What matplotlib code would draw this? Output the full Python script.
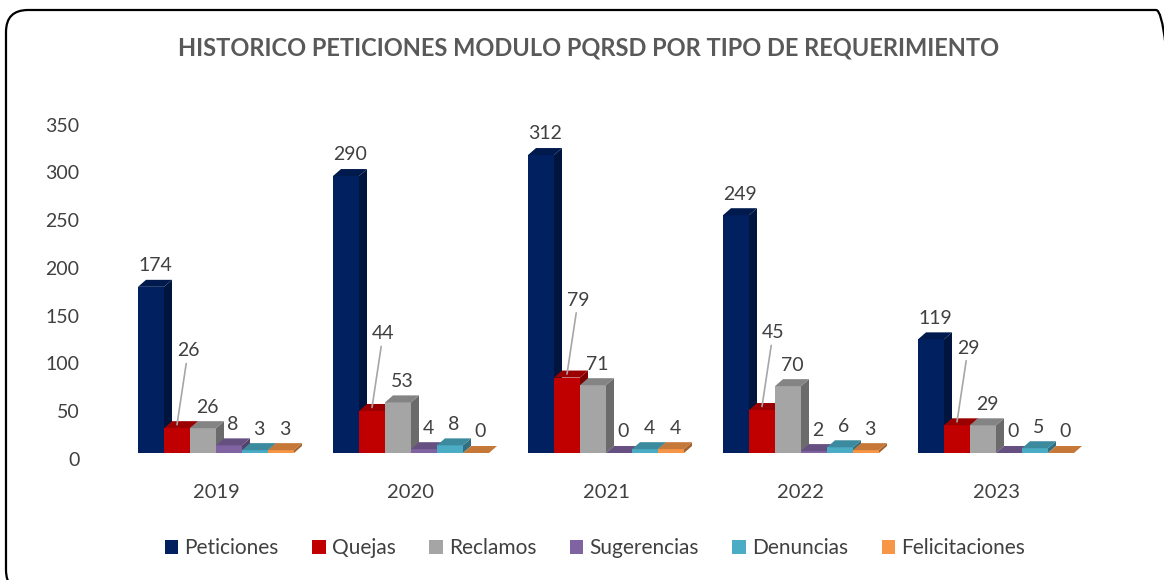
import numpy as np
import matplotlib.pyplot as plt
from matplotlib.patches import Polygon, Rectangle, FancyBboxPatch
from matplotlib.transforms import ScaledTranslation
import matplotlib.colors as mcolors

plt.rcParams['font.family'] = ['Lato', 'DejaVu Sans']

# ---------------- data ----------------
years = ['2019', '2020', '2021', '2022', '2023']
series = ['Peticiones', 'Quejas', 'Reclamos', 'Sugerencias', 'Denuncias', 'Felicitaciones']
peticiones = [174, 290, 312, 249, 119]
quejas = [26, 44, 79, 45, 29]
reclamos = [26, 53, 71, 70, 29]
sugerencias = [8, 4, 0, 2, 0]
denuncias = [3, 8, 4, 6, 5]
felicitaciones = [3, 0, 4, 3, 0]
values = [peticiones, quejas, reclamos, sugerencias, denuncias, felicitaciones]

colors = ['#002060', '#C00000', '#A5A5A5', '#8064A2', '#4BACC6', '#F79646']
txt = '#404040'

# ---------------- figure ----------------
fig = plt.figure(figsize=(11.64, 5.8), dpi=100)
W, H = 1164, 580

# rounded chart border (runs off the bottom/right edge like the original)
border = FancyBboxPatch((6 / 100, (H - 592) / 100), 1172 / 100, 582 / 100,
                        boxstyle='round,pad=0,rounding_size=0.22',
                        transform=fig.dpi_scale_trans, fill=False,
                        edgecolor='black', linewidth=1.6, clip_on=False)
fig.patches.append(border)

fig.text(589 / W, 1 - 48 / H,
         'HISTORICO PETICIONES MODULO PQRSD POR TIPO DE REQUERIMIENTO',
         ha='center', va='center', fontsize=17, fontweight='bold',
         color='#595959')

px_per_unit = 0.955
y0_px = 453
ymax = 350
ax_bottom = (H - y0_px) / H
ax_height = ymax * px_per_unit / H
cat_px = 195
ax_left = (216 - cat_px / 2) / W
ax = fig.add_axes([ax_left, ax_bottom, 5 * cat_px / W, ax_height])
ax.set_xlim(-0.5, 4.5)
ax.set_ylim(0, ymax)
for s in ax.spines.values():
    s.set_visible(False)
ax.set_facecolor('none')

# 3D look (pixels -> data units)
bar_w = 26 / cat_px
dx = 8 / cat_px
dy = 7 / px_per_unit
n = len(series)


def shade(c, f):
    r, g, b = mcolors.to_rgb(c)
    return (r * f, g * f, b * f)


x = np.arange(len(years))
z = 2
for i in range(len(years)):
    left0 = x[i] - n * bar_w / 2
    for j in range(n):
        v = values[j][i]
        xl = left0 + j * bar_w
        xr = xl + bar_w
        c = colors[j]
        ax.add_patch(Rectangle((xl, 0), bar_w, v, facecolor=c,
                               edgecolor='none', zorder=z))
        ax.add_patch(Polygon([(xr, 0), (xr + dx, dy), (xr + dx, v + dy), (xr, v)],
                             closed=True, facecolor=shade(c, 0.65),
                             edgecolor='none', zorder=z))
        ax.add_patch(Polygon([(xl, v), (xl + dx, v + dy), (xr + dx, v + dy), (xr, v)],
                             closed=True, facecolor=shade(c, 0.8),
                             edgecolor='none', zorder=z))
        z += 1
        cx = (xl + xr) / 2 + dx / 2
        if j == 1:
            # Quejas label lifted, with a leader line back to the bar
            ax.annotate(str(v), xy=(cx - dx / 2, v + dy / 2), xytext=(8, 47),
                        textcoords='offset points', fontsize=14, color=txt,
                        ha='center', va='bottom', zorder=100,
                        annotation_clip=False,
                        arrowprops=dict(arrowstyle='-', color='#A6A6A6', lw=1.2,
                                        shrinkA=1, shrinkB=0))
        else:
            ax.annotate(str(v), xy=(cx, v + dy), xytext=(0, 4),
                        textcoords='offset points', fontsize=14, color=txt,
                        ha='center', va='bottom', zorder=100,
                        annotation_clip=False)

ax.set_xticks(x)
ax.set_xticklabels(years, fontsize=14.5, color=txt)
ax.set_yticks(np.arange(0, 351, 50))
ax.set_yticklabels([str(v) for v in range(0, 351, 50)], fontsize=14, color=txt)
ax.tick_params(axis='both', length=0)
ax.tick_params(axis='y', pad=28)
ax.tick_params(axis='x', pad=22)
off = ScaledTranslation(0, -6 / 100, fig.dpi_scale_trans)
for lab in ax.get_yticklabels():
    lab.set_transform(lab.get_transform() + off)

handles = [Rectangle((0, 0), 1, 1, facecolor=c, edgecolor='none') for c in colors]
leg = fig.legend(handles, series, loc='center', bbox_to_anchor=(595 / W, 1 - 548 / H),
                 ncol=6, frameon=False, fontsize=15, handlelength=0.65,
                 handleheight=0.65, handletextpad=0.3, columnspacing=1.6,
                 labelcolor=txt)

fig.savefig('out.png', dpi=100)
